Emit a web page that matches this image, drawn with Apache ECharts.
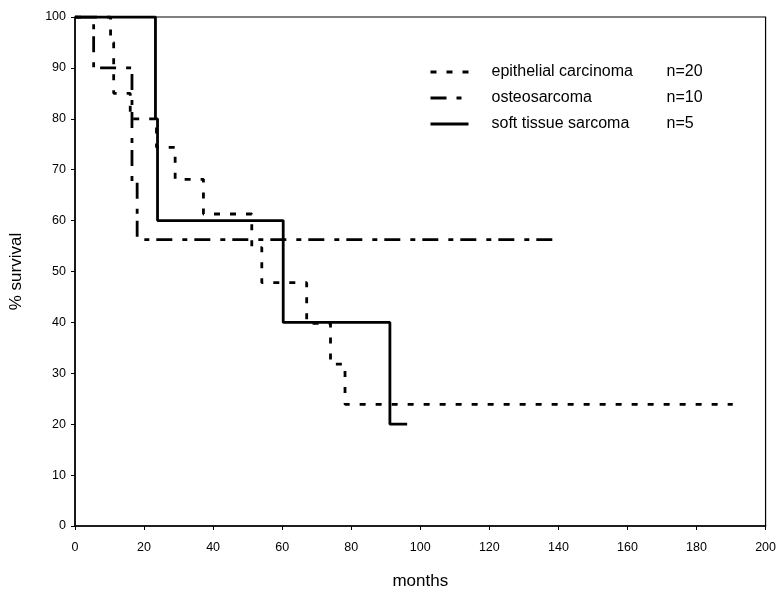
<!DOCTYPE html>
<html>
<head>
<meta charset="utf-8">
<script src="https://cdn.jsdelivr.net/npm/echarts@6/dist/echarts.min.js"></script>
<style>
html,body{margin:0;padding:0;background:#fff;}
#chart{width:779px;height:595px;}
</style>
</head>
<body>
<div id="chart"></div>
<script>
var xTicks = [0, 20, 40, 60, 80, 100, 120, 140, 160, 180, 200];
var yTicks = [0, 10, 20, 30, 40, 50, 60, 70, 80, 90, 100];

var epiMonths = [0, 10.3, 11.2, 16.0, 23.6, 29.0, 37.2, 51.2, 54.1, 67.1, 74.0, 78.2, 190.5];
var epiSurv   = [100, 95, 85, 80, 74.4, 68.1, 61.3, 54.7, 47.8, 39.8, 31.8, 23.9, 23.9];

var osteoMonths = [0, 5.4, 16.5, 18.0, 139];
var osteoSurv   = [100, 90, 67.5, 56.25, 56.25];

var softMonths = [0, 23.3, 23.9, 60.3, 91.2, 96.2];
var softSurv   = [100, 80, 60, 40, 20, 20];

var seriesNames = ['epithelial carcinoma', 'osteosarcoma', 'soft tissue sarcoma'];
var seriesN = ['n=20', 'n=10', 'n=5'];

function pairs(xs, ys) { return xs.map(function (x, i) { return [x, ys[i]]; }); }

var chart = echarts.init(document.getElementById('chart'), null, {renderer: 'canvas'});
var font = 'Liberation Sans, Arial, sans-serif';

chart.setOption({
  backgroundColor: '#fff',
  animation: false,
  grid: {left: 74.5, right: 12.5, top: 17, bottom: 62, show: true, borderColor: '#000', borderWidth: 1.2, backgroundColor: 'transparent'},
  legend: {
    orient: 'vertical',
    left: 424,
    top: 59,
    itemWidth: 38,
    itemHeight: 14,
    itemGap: 10,
    itemStyle: {opacity: 0},
    lineStyle: {width: 3},
    data: seriesNames,
    formatter: function (name) {
      var i = seriesNames.indexOf(name);
      return '{a|' + name + '}{b|' + seriesN[i] + '}';
    },
    textStyle: {
      color: '#000', fontFamily: font, fontSize: 16,
      rich: {
        a: {width: 175, fontSize: 16, fontFamily: font, color: '#000', padding: [0, 0, 0, 18]},
        b: {fontSize: 16, fontFamily: font, color: '#000'}
      }
    }
  },
  xAxis: {
    type: 'value', min: 0, max: 200, interval: 20,
    name: 'months', nameLocation: 'middle', nameGap: 47,
    nameTextStyle: {fontFamily: font, fontSize: 17, color: '#000'},
    axisLine: {show: true, onZero: false, lineStyle: {color: '#000', width: 1.5}},
    axisTick: {show: true, length: 4, lineStyle: {color: '#000'}},
    axisLabel: {color: '#000', fontFamily: font, fontSize: 12.5, margin: 15},
    splitLine: {show: false}
  },
  yAxis: {
    type: 'value', min: 0, max: 100, interval: 10,
    name: '% survival', nameLocation: 'middle', nameGap: 50,
    nameTextStyle: {fontFamily: font, fontSize: 17, color: '#000'},
    axisLine: {show: true, lineStyle: {color: '#000', width: 1.5}},
    axisTick: {show: true, length: 4, lineStyle: {color: '#000'}},
    axisLabel: {color: '#000', fontFamily: font, fontSize: 12.5, margin: 9},
    splitLine: {show: false}
  },
  series: [
    {
      name: seriesNames[0], type: 'line', step: 'end', symbol: 'none',
      data: pairs(epiMonths, epiSurv),
      lineStyle: {color: '#000', width: 2.8, type: [6, 10]},
      itemStyle: {color: '#000'}
    },
    {
      name: seriesNames[1], type: 'line', step: 'end', symbol: 'none',
      data: pairs(osteoMonths, osteoSurv),
      lineStyle: {color: '#000', width: 2.8, type: [16, 10, 5, 7]},
      itemStyle: {color: '#000'}
    },
    {
      name: seriesNames[2], type: 'line', step: 'end', symbol: 'none',
      data: pairs(softMonths, softSurv),
      lineStyle: {color: '#000', width: 2.8, type: 'solid'},
      itemStyle: {color: '#000'}
    }
  ]
});
</script>
</body>
</html>
